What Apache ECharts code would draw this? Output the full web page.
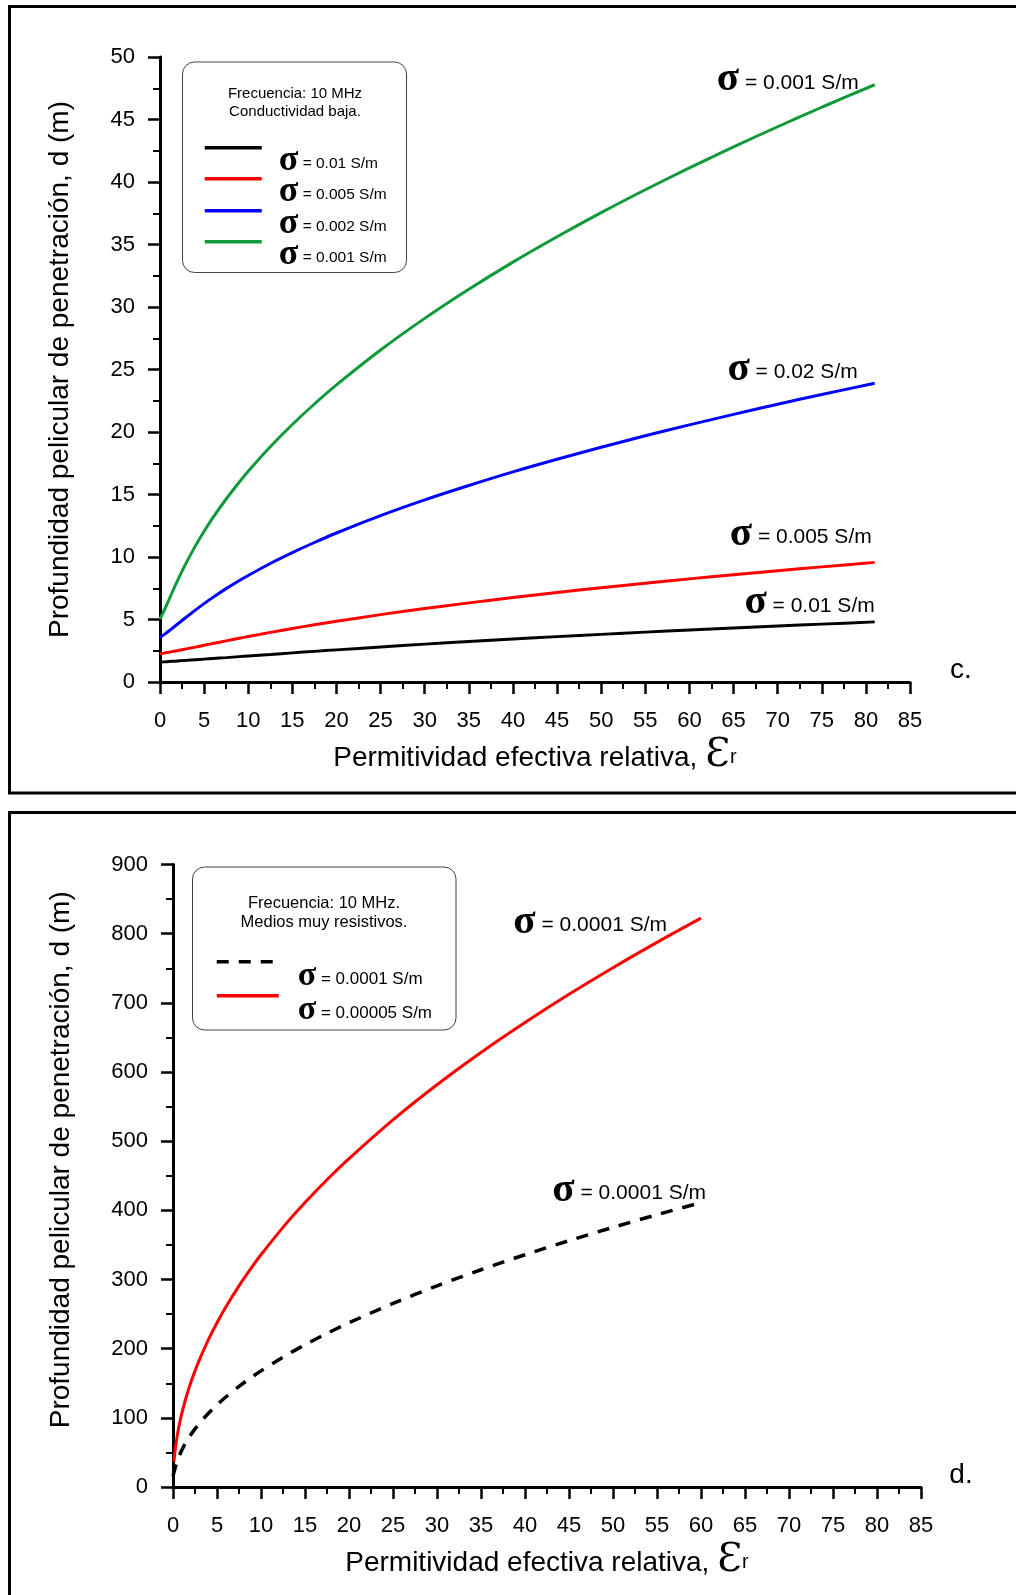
<!DOCTYPE html>
<html>
<head>
<meta charset="utf-8">
<title>Profundidad pelicular de penetración</title>
<script src="https://cdn.jsdelivr.net/npm/echarts@6/dist/echarts.min.js"></script>
<style>
  html, body { margin: 0; padding: 0; background: #ffffff; }
  #chart { width: 1016px; height: 1595px; }
</style>
</head>
<body>
<div id="chart"></div>
<script>
// ---- Panel c: low conductivity, f = 10 MHz ----
const epsTop = [0, 0.5, 1, 1.5, 2, 2.5, 3, 4, 5, 6, 7.5, 9, 10, 12.5, 15, 17.5, 20, 25, 30, 35, 40, 45, 50, 55, 60, 65, 70, 75, 81];
const dSigma0010 = [1.59, 1.61, 1.64, 1.66, 1.68, 1.71, 1.73, 1.78, 1.83, 1.88, 1.95, 2.03, 2.08, 2.20, 2.33, 2.45, 2.57, 2.80, 3.03, 3.24, 3.44, 3.63, 3.81, 3.99, 4.16, 4.32, 4.48, 4.63, 4.81];
const dSigma0005 = [2.25, 2.31, 2.38, 2.45, 2.51, 2.58, 2.65, 2.79, 2.94, 3.08, 3.29, 3.50, 3.64, 3.97, 4.28, 4.58, 4.86, 5.39, 5.88, 6.33, 6.76, 7.16, 7.54, 7.90, 8.25, 8.58, 8.90, 9.21, 9.57];
const dSigma0002 = [3.56, 3.81, 4.08, 4.36, 4.64, 4.92, 5.20, 5.75, 6.27, 6.77, 7.47, 8.12, 8.52, 9.48, 10.35, 11.16, 11.92, 13.31, 14.57, 15.72, 16.81, 17.82, 18.78, 19.70, 20.57, 21.41, 22.22, 23.00, 23.90];
const dSigma0001 = [5.03, 5.77, 6.56, 7.36, 8.13, 8.87, 9.57, 10.87, 12.06, 13.15, 14.64, 16.00, 16.86, 18.82, 20.60, 22.24, 23.77, 26.56, 29.09, 31.42, 33.59, 35.62, 37.55, 39.38, 41.13, 42.81, 44.42, 45.98, 47.78];
const xTicksTop = [0, 85, 5];    // min, max, step
const yTicksTop = [0, 50, 5];

// ---- Panel d: very resistive media, f = 10 MHz ----
const epsBottomDash = [0, 0.1, 0.25, 0.5, 0.75, 1, 1.5, 2, 2.5, 3, 4, 5, 6, 7.5, 9, 10, 12.5, 15, 17.5, 20, 25, 30, 35, 40, 45, 50, 55, 60];
const dSigma00001 = [15.9, 20.8, 28.0, 38.1, 46.3, 53.3, 65.1, 75.2, 84.0, 92.0, 106.2, 118.7, 130.1, 145.4, 159.3, 167.9, 187.7, 205.6, 222.1, 237.4, 265.4, 290.8, 314.1, 335.8, 356.1, 375.4, 393.7, 411.2];
const epsBottomRed = [0.1, 0.25, 0.5, 0.75, 1, 1.5, 2, 2.5, 3, 4, 5, 6, 7.5, 9, 10, 12.5, 15, 17.5, 20, 25, 30, 35, 40, 45, 50, 55, 60];
const dSigma000005 = [36.4, 53.9, 75.4, 92.1, 106.3, 130.1, 150.2, 167.9, 183.9, 212.4, 237.4, 260.1, 290.8, 318.5, 335.8, 375.4, 411.2, 444.2, 474.8, 530.9, 581.6, 628.2, 671.5, 712.3, 750.8, 787.4, 822.4];
const xTicksBottom = [0, 85, 5];
const yTicksBottom = [0, 900, 100];

// series names (legend) and end-of-curve annotations
const namesTop = ['σ = 0.01 S/m', 'σ = 0.005 S/m', 'σ = 0.002 S/m', 'σ = 0.001 S/m'];
const endTextsTop = ['σ = 0.01 S/m', 'σ = 0.005 S/m', 'σ = 0.02 S/m', 'σ = 0.001 S/m'];
const namesBottom = ['σ = 0.0001 S/m', 'σ = 0.00005 S/m'];
const endTextsBottom = ['σ = 0.0001 S/m', 'σ = 0.0001 S/m'];

const SANS = '"Liberation Sans", Arial, Helvetica, sans-serif';
const SERIF = '"Liberation Serif", "Times New Roman", "DejaVu Serif", serif';

const zip = (xs, ys) => xs.map((x, i) => [x, ys[i]]);

function axisPair(grid, xt, yt, yGap, yNamePad) {
  const tickLine = { show: true, length: 12, lineStyle: { color: '#000', width: 2.5 } };
  const minor = { show: true, splitNumber: 2, length: 7, lineStyle: { color: '#000', width: 2 } };
  const x = {
    type: 'value', gridIndex: grid, min: xt[0], max: xt[1], interval: xt[2],
    axisLine: { show: true, onZero: false, lineStyle: { color: '#000', width: 3 } },
    axisTick: tickLine, minorTick: minor, splitLine: { show: false },
    axisLabel: { color: '#000', fontFamily: SANS, fontSize: 22, margin: 28 },
    name: '{t|Permitividad efectiva relativa, }{e|Ɛ}{r|r}',
    nameLocation: 'middle', nameGap: 50,
    nameTextStyle: {
      color: '#000',
      rich: {
        t: { fontFamily: SANS, fontSize: 28, lineHeight: 35, verticalAlign: 'bottom', padding: [0, 0, 4, 0], color: '#000' },
        e: { fontFamily: '"DejaVu Serif", "Liberation Serif", serif', fontSize: 40, lineHeight: 44, verticalAlign: 'bottom', color: '#000' },
        r: { fontFamily: SANS, fontSize: 20, lineHeight: 30, verticalAlign: 'bottom', padding: [0, 0, 9, 0], color: '#000' }
      }
    }
  };
  const y = {
    type: 'value', gridIndex: grid, min: yt[0], max: yt[1], interval: yt[2],
    axisLine: { show: true, onZero: false, lineStyle: { color: '#000', width: 3 } },
    axisTick: tickLine, minorTick: minor, splitLine: { show: false },
    axisLabel: { color: '#000', fontFamily: SANS, fontSize: 22, margin: 25 },
    name: 'Profundidad pelicular de penetración, d (m)',
    nameLocation: 'middle', nameGap: yGap,
    nameTextStyle: { color: '#000', fontFamily: SANS, fontSize: 28, padding: yNamePad }
  };
  return [x, y];
}

const [xTop, yTop] = axisPair(0, xTicksTop, yTicksTop, 86, 0);
const [xBot, yBot] = axisPair(1, xTicksBottom, yTicksBottom, 98, [0, 0, 0, 32]);

// rich styles for curve annotations
const endRich = {
  s: { fontFamily: SERIF, fontWeight: 'bold', fontSize: 41, lineHeight: 37, verticalAlign: 'bottom', color: '#000' },
  t: { fontFamily: SANS, fontSize: 21, lineHeight: 27, verticalAlign: 'bottom', padding: [0, 0, 7, 0], color: '#000' }
};
const richLabel = txt => '{s|σ}{t|' + txt.slice(1) + '}';

function curve(name, xi, yi, xs, ys, color, width, dash, endText, off) {
  const data = zip(xs, ys);
  const last = data[data.length - 1];
  return {
    name, type: 'line', xAxisIndex: xi, yAxisIndex: yi, data,
    showSymbol: false, symbol: 'none', smooth: 0.3, clip: false,
    lineStyle: { color, width, type: dash || 'solid' },
    itemStyle: { color },
    markPoint: {
      silent: true, symbol: 'circle', symbolSize: 0,
      data: [{ coord: last, value: last[1] }],
      label: {
        show: true, position: 'inside', align: 'right', verticalAlign: 'middle',
        offset: off, color: '#000',
        formatter: () => richLabel(endText), rich: endRich
      }
    }
  };
}

const GREEN = '#0f9a3a';
const series = [
  curve(namesTop[0], 0, 0, epsTop, dSigma0010, '#000000', 3, null, endTextsTop[0], [0, -17]),
  curve(namesTop[1], 0, 0, epsTop, dSigma0005, '#ff0000', 3, null, endTextsTop[1], [-3, -26]),
  curve(namesTop[2], 0, 0, epsTop, dSigma0002, '#0000ff', 3, null, endTextsTop[2], [-17, -12]),
  curve(namesTop[3], 0, 0, epsTop, dSigma0001, GREEN, 3, null, endTextsTop[3], [-16, -3]),
  curve(namesBottom[0], 1, 1, epsBottomDash, dSigma00001, '#000000', 3.5, [12, 10], endTextsBottom[1], [5, -10]),
  curve(namesBottom[1], 1, 1, epsBottomRed, dSigma000005, '#ff0000', 3, null, endTextsBottom[0], [-34, 6])
];

// legend entries: one small legend per row so the rows sit at fixed heights
function legendRow(name, left, top, sigmaSize, textSize, padTop, padLeft, iconW, basePad) {
  return {
    data: [name], left, top, padding: 0, orient: 'horizontal',
    itemWidth: iconW, itemHeight: 14, selectedMode: false,
    lineStyle: { width: 3.5 },
    itemStyle: { opacity: 0 },
    formatter: n => richLabel(n),
    textStyle: {
      padding: [padTop, 0, 0, padLeft],
      rich: {
        s: { fontFamily: SERIF, fontWeight: 'bold', fontSize: sigmaSize, lineHeight: 30, verticalAlign: 'bottom', color: '#000' },
        t: { fontFamily: SANS, fontSize: textSize, lineHeight: textSize + 6, verticalAlign: 'bottom', padding: [0, 0, basePad, 0], color: '#000' }
      }
    }
  };
}

const legends = [
  legendRow(namesTop[0], 203, 142.2, 36, 15.5, 31, 12, 57, 7),
  legendRow(namesTop[1], 203, 173.2, 36, 15.5, 31, 12, 57, 7),
  legendRow(namesTop[2], 203, 205.2, 36, 15.5, 31, 12, 57, 7),
  legendRow(namesTop[3], 203, 236.2, 36, 15.5, 31, 12, 57, 7),
  legendRow(namesBottom[0], 215, 956.1, 34, 17, 34, 14, 62, 6),
  legendRow(namesBottom[1], 215, 990.1, 34, 17, 34, 14, 62, 6)
];

const txt = (text, x, y, size, align) => ({
  type: 'text', silent: true,
  style: { text, x, y, fill: '#000', font: size + 'px ' + SANS, align: align || 'center', verticalAlign: 'middle' }
});

const graphics = [
  // panel frames
  { type: 'rect', silent: true, shape: { x: 9.5, y: 6.5, width: 1100, height: 786.5 }, style: { fill: 'none', stroke: '#000', lineWidth: 3 } },
  { type: 'rect', silent: true, shape: { x: 9.5, y: 812.5, width: 1100, height: 900 }, style: { fill: 'none', stroke: '#000', lineWidth: 3 } },
  // legend boxes
  { type: 'rect', silent: true, shape: { x: 182.5, y: 62, width: 224, height: 210.5, r: 12 }, style: { fill: 'none', stroke: '#444', lineWidth: 1 } },
  { type: 'rect', silent: true, shape: { x: 192.5, y: 867, width: 263.5, height: 163, r: 12 }, style: { fill: 'none', stroke: '#444', lineWidth: 1 } },
  txt('Frecuencia: 10 MHz', 295, 93.5, 15),
  txt('Conductividad baja.', 295, 111.5, 15),
  txt('Frecuencia: 10 MHz.', 324, 903.5, 16.5),
  txt('Medios muy resistivos.', 324, 922, 16.5),
  // panel tags
  txt('c.', 961, 670, 28),
  txt('d.', 961, 1475, 28)
];

const chart = echarts.init(document.getElementById('chart'), null, { renderer: 'canvas' });
chart.setOption({
  backgroundColor: '#ffffff',
  animation: false,
  grid: [
    { left: 160, top: 57, width: 750, height: 625, containLabel: false },
    { left: 173, top: 864.5, width: 748, height: 622.5, containLabel: false }
  ],
  xAxis: [xTop, xBot],
  yAxis: [yTop, yBot],
  legend: legends,
  series,
  graphic: graphics
});
</script>
</body>
</html>
